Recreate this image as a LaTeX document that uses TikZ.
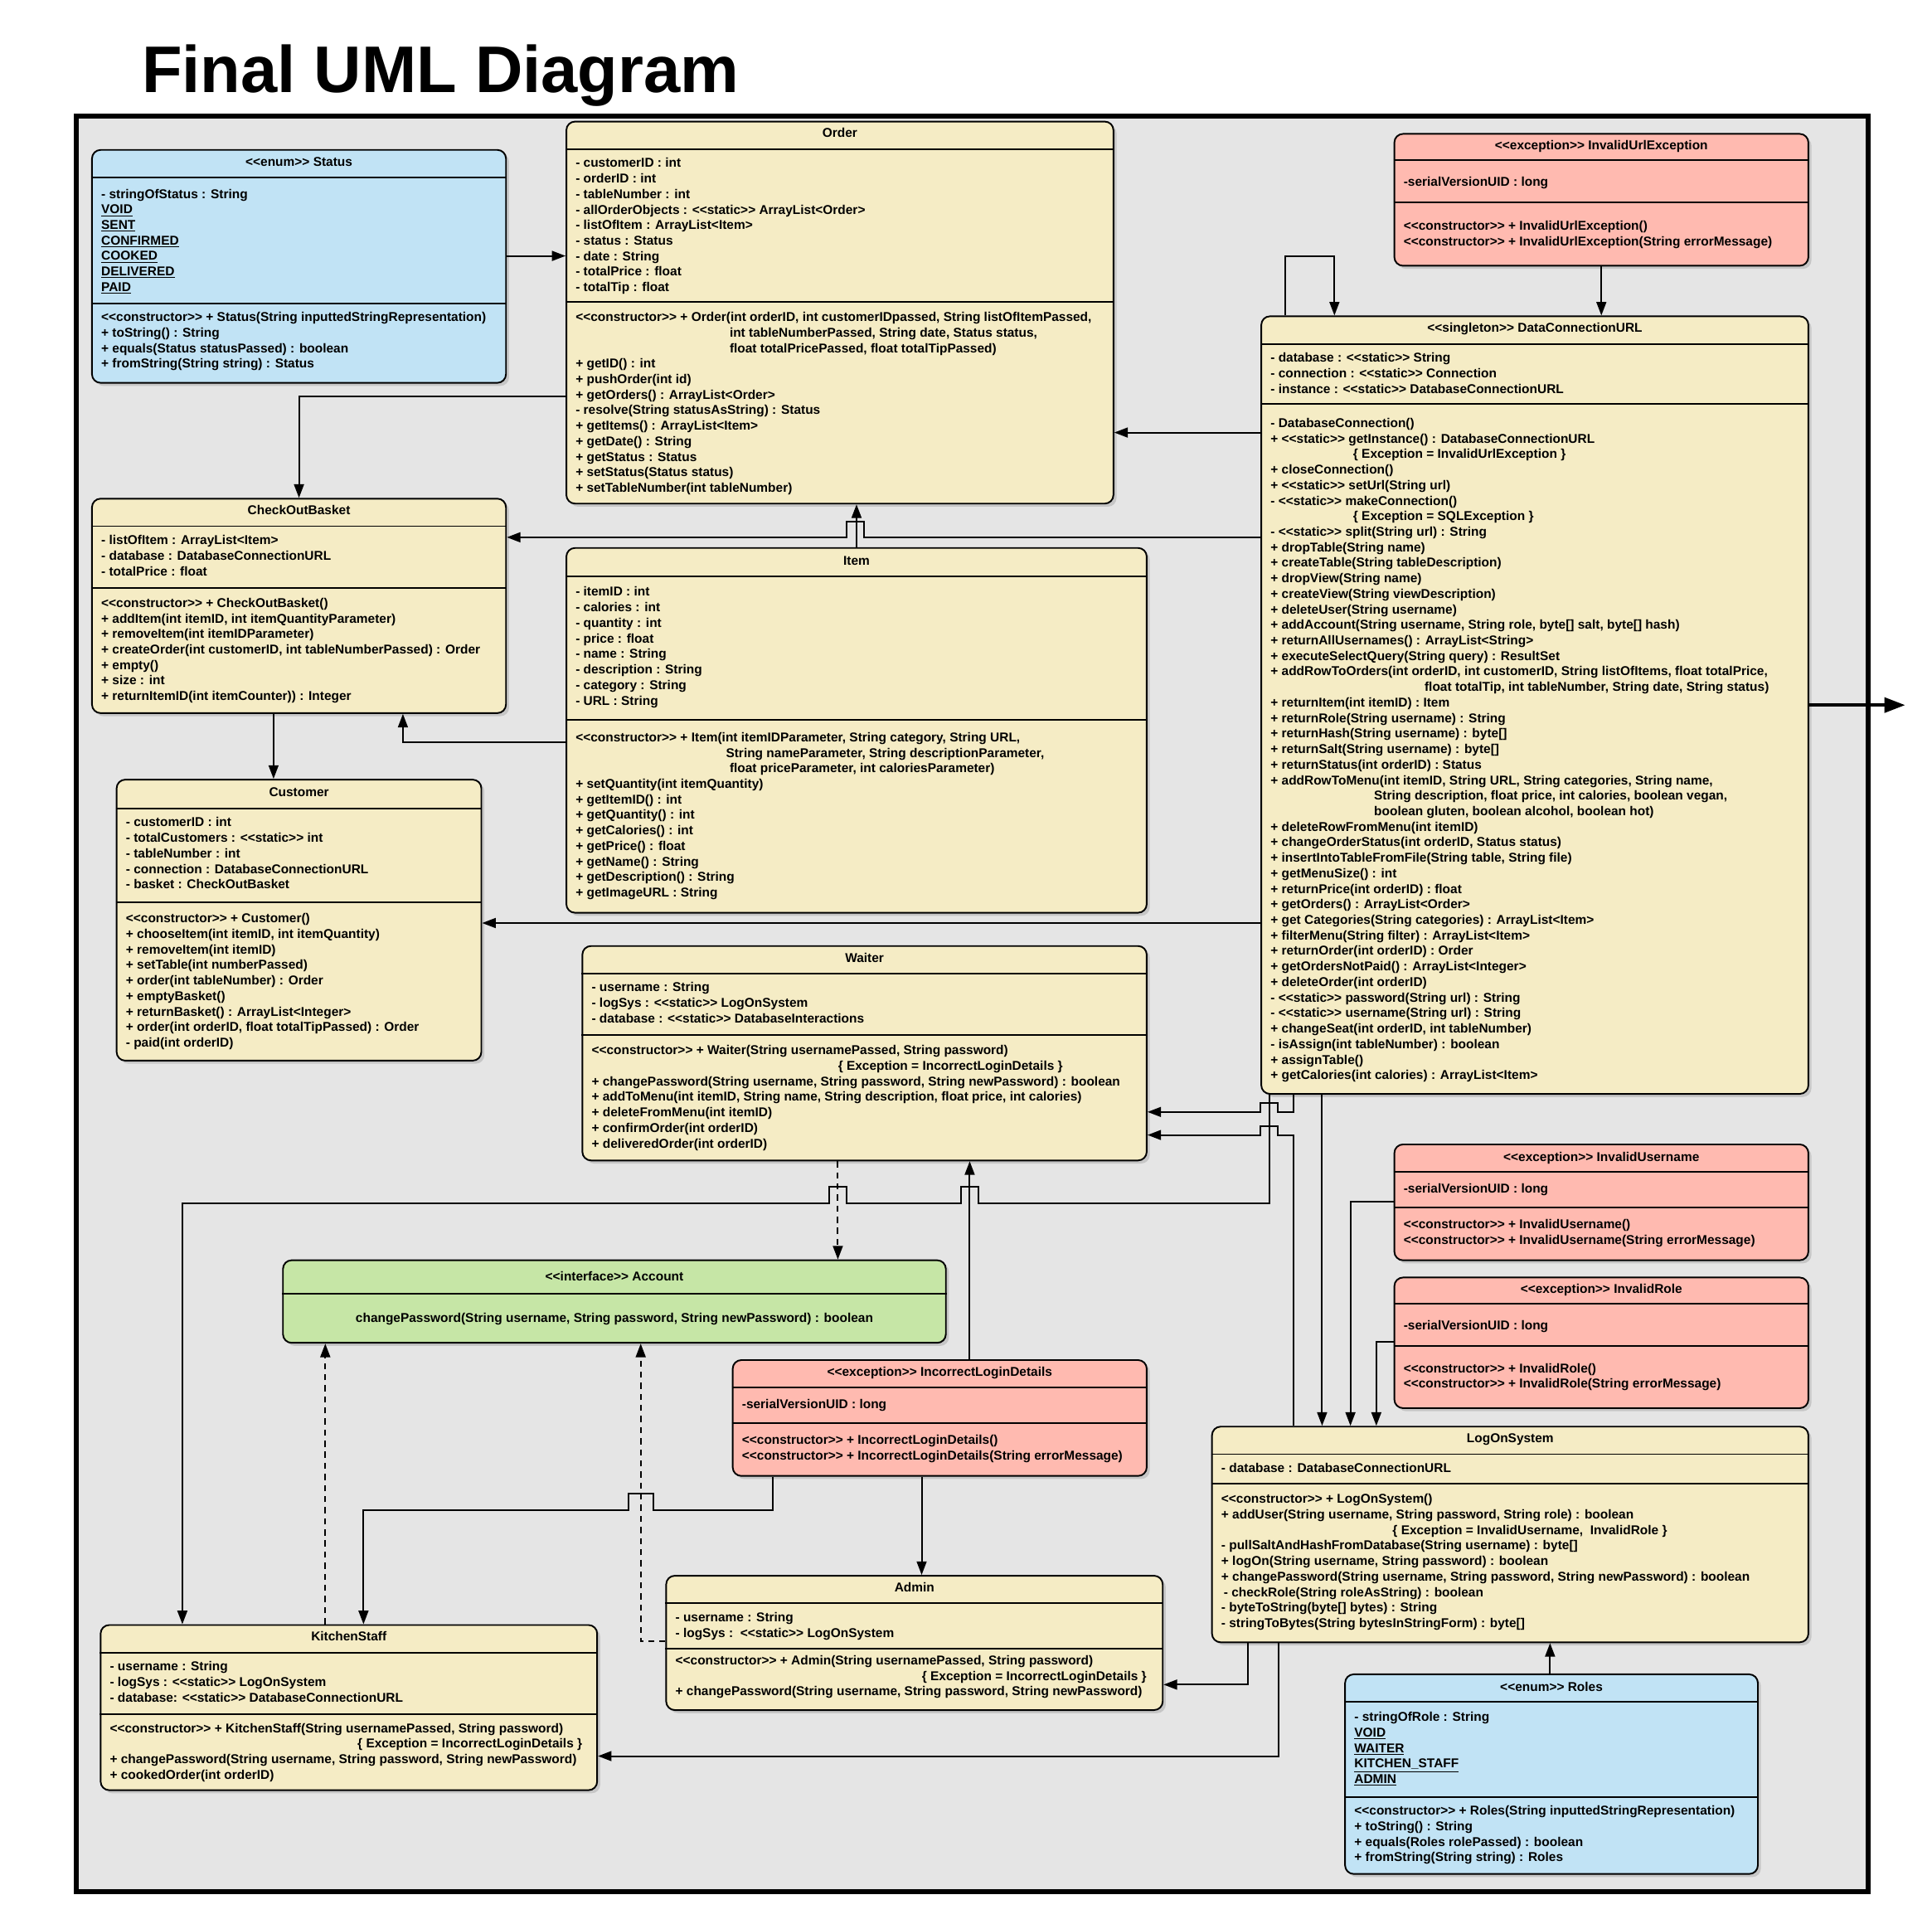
\documentclass[tikz,border=0pt]{standalone}
\usepackage{fontspec}
\setmainfont{Liberation Sans}
\usetikzlibrary{arrows.meta}
\usetikzlibrary{shadows}
\definecolor{frameGray}{RGB}{229,229,229}
\definecolor{classCream}{RGB}{245,236,197}
\definecolor{classBlue}{RGB}{193,227,245}
\definecolor{classSalmon}{RGB}{255,186,176}
\definecolor{classGreen}{RGB}{198,230,166}
\newcommand{\umlFont}{\fontsize{10.4}{12.6}\selectfont\bfseries}
\newcommand{\stereoOpen}{<\kern0pt<}
\newcommand{\stereoClose}{>\kern0pt>}
\newcommand{\staticTag}{\stereoOpen static\stereoClose}
\newcommand{\ctorTag}{\stereoOpen constructor\stereoClose}
\newcommand{\umlClass}[6]{%%
  %% The box of one class.
  \node[classBox,fill=#6,minimum width=#4pt,minimum height=#5pt] (#1) at (#2,#3) {};
}
\newcommand{\umlTitle}[3]{%%
  \node[classTitle] (#1Title) at ([shift={(0,#2+3.7)}]#1.north) {#3};
}
\newcommand{\umlSep}[2]{%%
  \draw[sepLine] ([shift={(0,#2)}]#1.north west) -- ([shift={(0,#2)}]#1.north east);
}
\newcommand{\umlText}[4]{%%
  \node[classText] (#1#2) at ([shift={(8,#3-3.9)}]#1.north west) {#4};
}

\begin{document}
\begin{tikzpicture}[%%
  x=1pt,y=-1pt,
  frameStyle/.style={line width=4pt,fill=frameGray},%%
  classBox/.style={draw,line width=1.3pt,rounded corners=7pt,inner sep=0pt,anchor=north west,
    drop shadow={shadow xshift=2.5pt,shadow yshift=-2.5pt,opacity=0.3}},%%
  classTitle/.style={font=\umlFont,inner sep=0pt,anchor=base},%%
  classText/.style={font=\umlFont,align=left,inner sep=0pt,anchor=north west},%%
  sepLine/.style={line width=1.3pt},%%
  connStyle/.style={line width=1.35pt,-{Triangle[length=11pt,width=8pt]}},%%
  realizeStyle/.style={connStyle,dash pattern=on 5pt off 4pt},%%
  extStyle/.style={line width=3pt,-{Triangle[length=17pt,width=12pt]}}%%
]
\useasboundingbox (0,0) rectangle (1568,1561);
%%
%% Title and frame.
\node[font=\fontsize{53.5}{60}\selectfont\bfseries,inner sep=0pt,anchor=base west] (diagramTitle) at (115,75) {Final UML Diagram};
\draw[frameStyle] (62,94) rectangle (1516,1535);
%%
%% Status.
\umlClass{status}{74}{121}{336}{189}{classBlue}
\umlTitle{status}{10}{\stereoOpen enum\stereoClose\ Status}
\umlSep{status}{23}
\umlText{status}{Attr}{36}{- stringOfStatus : String\\\underline{VOID}\\\underline{SENT}\\\underline{CONFIRMED}\\\underline{COOKED}\\\underline{DELIVERED}\\\underline{PAID}}
\umlSep{status}{125}
\umlText{status}{Ops}{136}{\ctorTag\ + Status(String inputtedStringRepresentation)\\+ toString() : String\\+ equals(Status statusPassed) : boolean\\+ fromString(String string) : Status}
%%
%% Order.
\umlClass{order}{459}{98}{444}{310}{classCream}
\umlTitle{order}{10}{Order}
\umlSep{order}{23}
\umlText{order}{Attr}{34}{- customerID : int\\- orderID : int\\- tableNumber : int\\- allOrderObjects : \staticTag\ ArrayList<Order>\\- listOfItem : ArrayList<Item>\\- status : Status\\- date : String\\- totalPrice : float\\- totalTip : float}
\umlSep{order}{147}
\umlText{order}{Ops}{159}{\ctorTag\ + Order(int orderID, int customerIDpassed, String listOfItemPassed,\\\hspace*{125pt}int tableNumberPassed, String date, Status status,\\\hspace*{125pt}float totalPricePassed, float totalTipPassed)\\+ getID() : int\\+ pushOrder(int id)\\+ getOrders() : ArrayList<Order>\\- resolve(String statusAsString) : Status\\+ getItems() : ArrayList<Item>\\+ getDate() : String\\+ getStatus : Status\\+ setStatus(Status status)\\+ setTableNumber(int tableNumber)}
%%
%% InvalidUrlException.
\umlClass{invalidUrl}{1131}{108}{336}{107}{classSalmon}
\umlTitle{invalidUrl}{10}{\stereoOpen exception\stereoClose\ InvalidUrlException}
\umlSep{invalidUrl}{22}
\umlText{invalidUrl}{Attr}{39}{-serialVersionUID : long}
\umlSep{invalidUrl}{56}
\umlText{invalidUrl}{Ops}{75}{\ctorTag\ + InvalidUrlException()\\\ctorTag\ + InvalidUrlException(String errorMessage)}
%%
%% DataConnectionURL.
\umlClass{dcu}{1023}{256}{444}{631}{classCream}
\umlTitle{dcu}{10}{\stereoOpen singleton\stereoClose\ DataConnectionURL}
\umlSep{dcu}{23}
\umlText{dcu}{Attr}{34}{- database : \staticTag\ String\\- connection : \staticTag\ Connection\\- instance : \staticTag\ DatabaseConnectionURL}
\umlSep{dcu}{72}
\umlText{dcu}{Ops}{87}{- DatabaseConnection()\\
+ \staticTag\ getInstance() : DatabaseConnectionURL\\
\hspace*{67pt}\{ Exception = InvalidUrlException \}\\
+ closeConnection()\\
+ \staticTag\ setUrl(String url)\\
- \staticTag\ makeConnection()\\
\hspace*{67pt}\{ Exception = SQLException \}\\
- \staticTag\ split(String url) : String\\
+ dropTable(String name)\\
+ createTable(String tableDescription)\\
+ dropView(String name)\\
+ createView(String viewDescription)\\
+ deleteUser(String username)\\
+ addAccount(String username, String role, byte[] salt, byte[] hash)\\
+ returnAllUsernames() : ArrayList<String>\\
+ executeSelectQuery(String query) : ResultSet\\
+ addRowToOrders(int orderID, int customerID, String listOfItems, float totalPrice,\\
\hspace*{125pt}float totalTip, int tableNumber, String date, String status)\\
+ returnItem(int itemID) : Item\\
+ returnRole(String username) : String\\
+ returnHash(String username) : byte[]\\
+ returnSalt(String username) : byte[]\\
+ returnStatus(int orderID) : Status\\
+ addRowToMenu(int itemID, String URL, String categories, String name,\\
\hspace*{84pt}String description, float price, int calories, boolean vegan,\\
\hspace*{84pt}boolean gluten, boolean alcohol, boolean hot)\\
+ deleteRowFromMenu(int itemID)\\
+ changeOrderStatus(int orderID, Status status)\\
+ insertIntoTableFromFile(String table, String file)\\
+ getMenuSize() : int\\
+ returnPrice(int orderID) : float\\
+ getOrders() : ArrayList<Order>\\
+ get Categories(String categories) : ArrayList<Item>\\
+ filterMenu(String filter) : ArrayList<Item>\\
+ returnOrder(int orderID) : Order\\
+ getOrdersNotPaid() : ArrayList<Integer>\\
+ deleteOrder(int orderID)\\
- \staticTag\ password(String url) : String\\
- \staticTag\ username(String url) : String\\
+ changeSeat(int orderID, int tableNumber)\\
- isAssign(int tableNumber) : boolean\\
+ assignTable()\\
+ getCalories(int calories) : ArrayList<Item>}
%%
%% CheckOutBasket.
\umlClass{checkout}{74}{404}{336}{174}{classCream}
\umlTitle{checkout}{10}{CheckOutBasket}
\umlSep{checkout}{23}
\umlText{checkout}{Attr}{34}{- listOfItem : ArrayList<Item>\\- database : DatabaseConnectionURL\\- totalPrice : float}
\umlSep{checkout}{73}
\umlText{checkout}{Ops}{85}{\ctorTag\ + CheckOutBasket()\\+ addItem(int itemID, int itemQuantityParameter)\\+ removeItem(int itemIDParameter)\\+ createOrder(int customerID, int tableNumberPassed) : Order\\+ empty()\\+ size : int\\+ returnItemID(int itemCounter)) : Integer}
%%
%% Item.
\umlClass{item}{459}{444}{471}{296}{classCream}
\umlTitle{item}{11}{Item}
\umlSep{item}{24}
\umlText{item}{Attr}{36}{- itemID : int\\- calories : int\\- quantity : int\\- price : float\\- name : String\\- description : String\\- category : String\\- URL : String}
\umlSep{item}{140}
\umlText{item}{Ops}{154}{\ctorTag\ + Item(int itemIDParameter, String category, String URL,\\\hspace*{122pt}String nameParameter, String descriptionParameter,\\\hspace*{125pt}float priceParameter, int caloriesParameter)\\+ setQuantity(int itemQuantity)\\+ getItemID() : int\\+ getQuantity() : int\\+ getCalories() : int\\+ getPrice() : float\\+ getName() : String\\+ getDescription() : String\\+ getImageURL : String}
%%
%% Customer.
\umlClass{customer}{94}{632}{296}{228}{classCream}
\umlTitle{customer}{11}{Customer}
\umlSep{customer}{24}
\umlText{customer}{Attr}{35}{- customerID : int\\- totalCustomers : \staticTag\ int\\- tableNumber : int\\- connection : DatabaseConnectionURL\\- basket : CheckOutBasket}
\umlSep{customer}{100}
\umlText{customer}{Ops}{113}{\ctorTag\ + Customer()\\+ chooseItem(int itemID, int itemQuantity)\\+ removeItem(int itemID)\\+ setTable(int numberPassed)\\+ order(int tableNumber) : Order\\+ emptyBasket()\\+ returnBasket() : ArrayList<Integer>\\+ order(int orderID, float totalTipPassed) : Order\\- paid(int orderID)}
%%
%% Waiter.
\umlClass{waiter}{472}{767}{458}{174}{classCream}
\umlTitle{waiter}{10}{Waiter}
\umlSep{waiter}{23}
\umlText{waiter}{Attr}{34}{- username : String\\- logSys : \staticTag\ LogOnSystem\\- database : \staticTag\ DatabaseInteractions}
\umlSep{waiter}{73}
\umlText{waiter}{Ops}{85}{\ctorTag\ + Waiter(String usernamePassed, String password)\\\hspace*{200pt}\{ Exception = IncorrectLoginDetails \}\\+ changePassword(String username, String password, String newPassword) : boolean\\+ addToMenu(int itemID, String name, String description, float price, int calories)\\+ deleteFromMenu(int itemID)\\+ confirmOrder(int orderID)\\+ deliveredOrder(int orderID)}
%%
%% InvalidUsername.
\umlClass{invalidUsername}{1131}{928}{336}{94}{classSalmon}
\umlTitle{invalidUsername}{11}{\stereoOpen exception\stereoClose\ InvalidUsername}
\umlSep{invalidUsername}{23}
\umlText{invalidUsername}{Attr}{36}{-serialVersionUID : long}
\umlSep{invalidUsername}{52}
\umlText{invalidUsername}{Ops}{65}{\ctorTag\ + InvalidUsername()\\\ctorTag\ + InvalidUsername(String errorMessage)}
%%
%% InvalidRole.
\umlClass{invalidRole}{1131}{1036}{336}{106}{classSalmon}
\umlTitle{invalidRole}{10}{\stereoOpen exception\stereoClose\ InvalidRole}
\umlSep{invalidRole}{22}
\umlText{invalidRole}{Attr}{39}{-serialVersionUID : long}
\umlSep{invalidRole}{56}
\umlText{invalidRole}{Ops}{74}{\ctorTag\ + InvalidRole()\\\ctorTag\ + InvalidRole(String errorMessage)}
%%
%% Account.
\umlClass{account}{229}{1022}{538}{67}{classGreen}
\umlTitle{account}{14}{\stereoOpen interface\stereoClose\ Account}
\umlSep{account}{28}
\node[classTitle] (accountOps) at ([shift={(0,50.7)}]account.north) {changePassword(String username, String password, String newPassword) : boolean};
%%
%% IncorrectLoginDetails.
\umlClass{incorrectLogin}{594}{1103}{336}{94}{classSalmon}
\umlTitle{incorrectLogin}{10}{\stereoOpen exception\stereoClose\ IncorrectLoginDetails}
\umlSep{incorrectLogin}{23}
\umlText{incorrectLogin}{Attr}{36}{-serialVersionUID : long}
\umlSep{incorrectLogin}{52}
\umlText{incorrectLogin}{Ops}{65}{\ctorTag\ + IncorrectLoginDetails()\\\ctorTag\ + IncorrectLoginDetails(String errorMessage)}
%%
%% LogOnSystem.
\umlClass{logOn}{983}{1157}{484}{175}{classCream}
\umlTitle{logOn}{10}{LogOnSystem}
\umlSep{logOn}{23}
\umlText{logOn}{Attr}{34}{- database : DatabaseConnectionURL}
\umlSep{logOn}{47}
\umlText{logOn}{Ops}{59}{\ctorTag\ + LogOnSystem()\\+ addUser(String username, String password, String role) : boolean\\\hspace*{139pt}\{ Exception = InvalidUsername,\ \ InvalidRole \}\\- pullSaltAndHashFromDatabase(String username) : byte[]\\+ logOn(String username, String password) : boolean\\+ changePassword(String username, String password, String newPassword) : boolean\\\hspace*{2pt}- checkRole(String roleAsString) : boolean\\- byteToString(byte[] bytes) : String\\- stringToBytes(String bytesInStringForm) : byte[]}
%%
%% Admin.
\umlClass{admin}{540}{1278}{403}{109}{classCream}
\umlTitle{admin}{10}{Admin}
\umlSep{admin}{23}
\umlText{admin}{Attr}{34}{- username : String\\- logSys :\ \ \staticTag\ LogOnSystem}
\umlSep{admin}{60}
\umlText{admin}{Ops}{69}{\ctorTag\ + Admin(String usernamePassed, String password)\\\hspace*{200pt}\{ Exception = IncorrectLoginDetails \}\\+ changePassword(String username, String password, String newPassword)}
%%
%% KitchenStaff.
\umlClass{kitchen}{81}{1318}{403}{134}{classCream}
\umlTitle{kitchen}{10}{KitchenStaff}
\umlSep{kitchen}{23}
\umlText{kitchen}{Attr}{34}{- username : String\\- logSys : \staticTag\ LogOnSystem\\- database: \staticTag\ DatabaseConnectionURL}
\umlSep{kitchen}{73}
\umlText{kitchen}{Ops}{84}{\ctorTag\ + KitchenStaff(String usernamePassed, String password)\\\hspace*{201pt}\{ Exception = IncorrectLoginDetails \}\\+ changePassword(String username, String password, String newPassword)\\+ cookedOrder(int orderID)}
%%
%% Roles.
\umlClass{roles}{1091}{1358}{335}{162}{classBlue}
\umlTitle{roles}{11}{\stereoOpen enum\stereoClose\ Roles}
\umlSep{roles}{23}
\umlText{roles}{Attr}{35}{- stringOfRole : String\\\underline{VOID}\\\underline{WAITER}\\\underline{KITCHEN\_STAFF}\\\underline{ADMIN}}
\umlSep{roles}{100}
\umlText{roles}{Ops}{111}{\ctorTag\ + Roles(String inputtedStringRepresentation)\\+ toString() : String\\+ equals(Roles rolePassed) : boolean\\+ fromString(String string) : Roles}
%%
%% Connector ends.
\coordinate (statusOut) at ([shift={(0,-8.5)}]status.east);
\coordinate (orderOut) at ([shift={(0,68)}]order.west);
\coordinate (dcuOrderOut) at ([shift={(0,95)}]dcu.north west);
\coordinate (dcuBasketOut) at ([shift={(0,180)}]dcu.north west);
\coordinate (dcuCustOut) at ([shift={(0,493)}]dcu.north west);
\coordinate (dcuLoopOut) at ([shift={(20,0)}]dcu.north west);
\coordinate (dcuLoopIn) at ([shift={(60,0)}]dcu.north west);
\coordinate (extEnd) at ([shift={(78,0)}]dcu.east);
\coordinate (itemOut) at ([shift={(0,158)}]item.north west);
\coordinate (basketIn) at ([shift={(253,0)}]checkout.south west);
\coordinate (basketDown) at ([shift={(148,0)}]checkout.south west);
\coordinate (dcuWaiterOut) at ([shift={(27,0)}]dcu.south west);
\coordinate (dcuWaiterBend) at ([shift={(27,14)}]dcu.south west);
\coordinate (logOnWaiterOut) at ([shift={(67,0)}]logOn.north west);
\coordinate (logOnWaiterBend) at ([shift={(67,-236)}]logOn.north west);
\coordinate (dcuKitchenOut) at ([shift={(7,0)}]dcu.south west);
\coordinate (dcuKitchenBend) at ([shift={(7,88)}]dcu.south west);
\coordinate (kitchenInL) at ([shift={(67,0)}]kitchen.north west);
\coordinate (kitchenInM) at ([shift={(214,0)}]kitchen.north west);
\coordinate (kitchenUp) at ([shift={(183,0)}]kitchen.north west);
\coordinate (kitchenInR) at ([shift={(0,107)}]kitchen.north east);
\coordinate (incorrectUp) at ([shift={(193,0)}]incorrectLogin.north west);
\coordinate (incorrectDown) at ([shift={(154,0)}]incorrectLogin.south west);
\coordinate (incKitchenOut) at ([shift={(33,0)}]incorrectLogin.south west);
\coordinate (incKitchenBend) at ([shift={(33,27)}]incorrectLogin.south west);
\coordinate (waiterDown) at ([shift={(208,0)}]waiter.south west);
\coordinate (accountInR) at ([shift={(291,0)}]account.south west);
\coordinate (adminOut) at ([shift={(0,54)}]admin.north west);
\coordinate (adminInR) at ([shift={(0,89)}]admin.north east);
\coordinate (logOnAdminOut) at ([shift={(30,0)}]logOn.south west);
\coordinate (logOnKitchenOut) at ([shift={(55,0)}]logOn.south west);
\coordinate (dcuLogOnOut) at ([shift={(50,0)}]dcu.south west);
\coordinate (usernameOut) at ([shift={(0,47)}]invalidUsername.north west);
\coordinate (roleOut) at ([shift={(0,53)}]invalidRole.north west);
\coordinate (logOnInA) at ([shift={(113,0)}]logOn.north west);
\coordinate (logOnInB) at ([shift={(134,0)}]logOn.north west);
\coordinate (rolesUp) at ([shift={(167,0)}]roles.north west);
%%
%% Associations.
\draw[connStyle] (statusOut) -- (statusOut -| order.west);
\draw[connStyle] (orderOut) -| (checkout.north);
\draw[connStyle] (dcuOrderOut) -- (dcuOrderOut -| order.east);
\draw[connStyle] (dcuBasketOut) -- ++(-322,0) -- ++(0,-13) -- ++(-14,0) -- ++(0,13) -- (dcuBasketOut -| checkout.east);
\draw[connStyle] (item.north) -- (item.north |- order.south);
\draw[connStyle] (itemOut) -| (basketIn);
\draw[connStyle] (basketDown) -- (basketDown |- customer.north);
\draw[connStyle] (dcuCustOut) -- (dcuCustOut -| customer.east);
\draw[connStyle] (dcuLoopOut) -- ++(0,-48) -| (dcuLoopIn);
\draw[extStyle] (dcu.east) -- (extEnd);
\draw[connStyle] (invalidUrl.south) -- (invalidUrl.south |- dcu.north);
\draw[connStyle] (dcuWaiterOut) -- (dcuWaiterBend) -- ++(-13,0) -- ++(0,-7) -- ++(-14,0) -- ++(0,7) -- (dcuWaiterBend -| waiter.east);
\draw[connStyle] (logOnWaiterOut) -- (logOnWaiterBend) -- ++(-13,0) -- ++(0,-7) -- ++(-14,0) -- ++(0,7) -- (logOnWaiterBend -| waiter.east);
\draw[connStyle] (dcuKitchenOut) -- (dcuKitchenBend) -- ++(-236,0) -- ++(0,-13) -- ++(-14,0) -- ++(0,13) -- ++(-93,0) -- ++(0,-13) -- ++(-14,0) -- ++(0,13) -| (kitchenInL);
\draw[connStyle] (incorrectUp) -- (incorrectUp |- waiter.south);
\draw[connStyle] (incorrectDown) -- (incorrectDown |- admin.north);
\draw[connStyle] (incKitchenOut) -- (incKitchenBend) -- ++(-97,0) -- ++(0,-13) -- ++(-20,0) -- ++(0,13) -| (kitchenInM);
\draw[connStyle] (logOnAdminOut) |- (adminInR);
\draw[connStyle] (logOnKitchenOut) |- (kitchenInR);
\draw[connStyle] (dcuLogOnOut) -- (dcuLogOnOut |- logOn.north);
\draw[connStyle] (usernameOut) -| (logOnInA);
\draw[connStyle] (roleOut) -| (logOnInB);
\draw[connStyle] (rolesUp) -- (rolesUp |- logOn.south);
%% Realizations of Account.
\draw[realizeStyle] (waiterDown) -- (waiterDown |- account.north);
\draw[realizeStyle] (kitchenUp) -- (kitchenUp |- account.south);
\draw[realizeStyle] (adminOut) -| (accountInR);
\end{tikzpicture}
\end{document}
